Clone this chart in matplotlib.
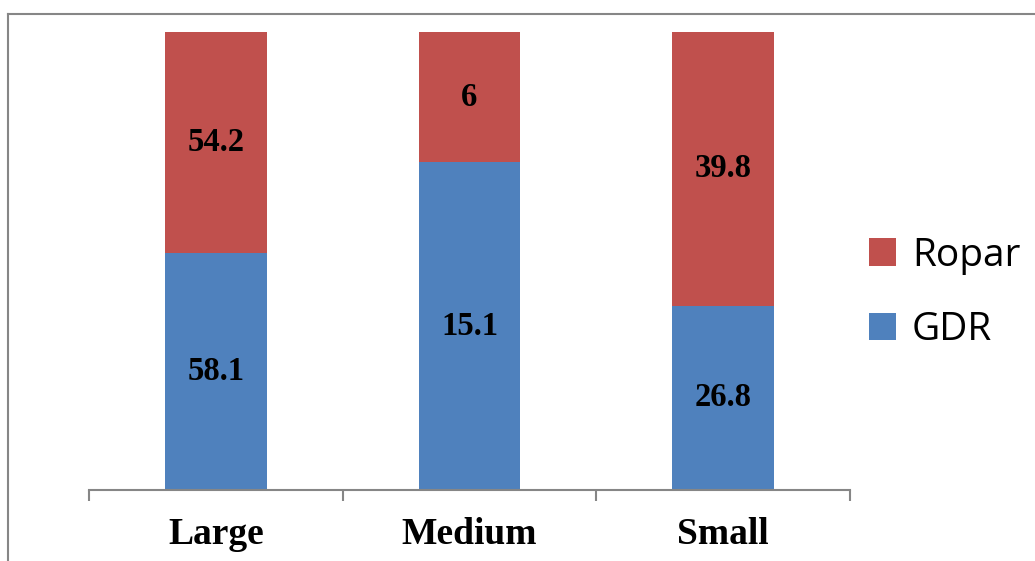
import numpy as np
import matplotlib.pyplot as plt
from matplotlib.lines import Line2D

categories = ['Large', 'Medium', 'Small']
gdr = [58.1, 15.1, 26.8]
ropar = [54.2, 6, 39.8]

gdr_a = np.array(gdr)
ropar_a = np.array(ropar)
total = gdr_a + ropar_a
gdr_pct = gdr_a / total
ropar_pct = ropar_a / total

fig = plt.figure(figsize=(10.35, 5.61), dpi=100)
ax = fig.add_axes([89 / 1035, 1 - 490 / 561, (850 - 89) / 1035, (490 - 32) / 561])

x = np.arange(len(categories))
w = 0.40
b1 = ax.bar(x, gdr_pct, w, color='#4F81BD', label='GDR')
b2 = ax.bar(x, ropar_pct, w, bottom=gdr_pct, color='#C0504D', label='Ropar')

serif = ['Liberation Serif', 'DejaVu Serif']
for i in range(len(categories)):
    ax.text(x[i], gdr_pct[i] / 2, f'{gdr[i]:g}', ha='center', va='center',
            fontsize=23.5, fontweight='bold', family=serif)
    ax.text(x[i], gdr_pct[i] + ropar_pct[i] / 2, f'{ropar[i]:g}', ha='center', va='center',
            fontsize=23.5, fontweight='bold', family=serif)

ax.set_xlim(-0.5, 2.5)
ax.set_ylim(0, 1)
for s in ['top', 'right', 'left']:
    ax.spines[s].set_visible(False)
ax.spines['bottom'].set_color('#868686')
ax.spines['bottom'].set_linewidth(1.5)
ax.set_yticks([])
ax.set_xticks([-0.5, 0.5, 1.5, 2.5])
ax.set_xticklabels([])
ax.tick_params(axis='x', length=8, width=1.5, color='#868686', direction='out')
for i, c in enumerate(categories):
    ax.text(x[i], -0.098, c, ha='center', va='center', fontsize=27, fontweight='bold',
            family=serif)

ax.legend(handles=[b2, b1], labels=['Ropar', 'GDR'], loc='center left',
          bbox_to_anchor=(834 / 1035, 1 - 293 / 561), bbox_transform=fig.transFigure,
          frameon=False, prop={'family': 'Open Sans', 'size': 28},
          handlelength=0.7, handleheight=0.7, handletextpad=0.4, labelspacing=0.95)

# outer chart frame (cropped on right and bottom)
fig.add_artist(Line2D([8 / 1035, 8 / 1035], [0, 1 - 14 / 561], transform=fig.transFigure,
                      color='#868686', lw=1.5))
fig.add_artist(Line2D([8 / 1035, 1], [1 - 14 / 561, 1 - 14 / 561], transform=fig.transFigure,
                      color='#868686', lw=1.5))

fig.savefig('out.png', dpi=100)
